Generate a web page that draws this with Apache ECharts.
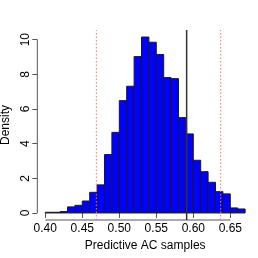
<!DOCTYPE html>
<html><head><meta charset="utf-8">
<script src="https://cdn.jsdelivr.net/npm/echarts@6/dist/echarts.min.js"></script>
<style>html,body{margin:0;padding:0;background:#fff}#c{width:258px;height:258px}</style>
</head><body><div id="c"></div>
<script>
// Histogram bins (left edges) and densities
const binLeft = [0.40,0.41,0.42,0.43,0.44,0.45,0.46,0.47,0.48,0.49,0.50,0.51,0.52,0.53,0.54,0.55,0.56,0.57,0.58,0.59,0.60,0.61,0.62,0.63,0.64,0.65,0.66];
const density = [0.04,0.04,0.08,0.35,0.44,0.69,1.19,1.62,3.37,4.65,6.48,7.31,9.02,10.15,9.85,9.14,7.81,7.75,5.50,4.56,3.04,2.38,1.77,1.23,1.10,0.29,0.23];
const binWidth = 0.01;
const xTicks = [0.40,0.45,0.50,0.55,0.60,0.65];
const yTicks = [0,2,4,6,8,10];
const intervalLower = 0.469;
const intervalUpper = 0.637;
const observed = 0.591;
const xRange = [0.3892, 0.6808];
const yRange = [-0.406, 10.556];

const font = 'Liberation Sans, Arial, sans-serif';
const chart = echarts.init(document.getElementById('c'), null, {renderer:'canvas'});
chart.setOption({
  animation:false,
  grid:{left:37.3, right:4.9, top:30, bottom:38, containLabel:false, outerBoundsMode:'none'},
  xAxis:{type:'value', min:xRange[0], max:xRange[1],
    name:'Predictive AC samples', nameLocation:'middle', nameGap:18,
    nameTextStyle:{color:'#000', fontFamily:font, fontSize:12},
    axisLine:{show:false}, splitLine:{show:false},
    axisTick:{show:true, customValues:xTicks, length:5, lineStyle:{color:'#555'}},
    axisLabel:{customValues:xTicks, margin:3, color:'#000', fontFamily:font, fontSize:12,
      formatter:v=>v.toFixed(2)}},
  yAxis:{type:'value', min:yRange[0], max:yRange[1],
    name:'Density', nameLocation:'middle', nameGap:19, nameRotate:90,
    nameTextStyle:{color:'#000', fontFamily:font, fontSize:12},
    axisLine:{show:false}, splitLine:{show:false},
    axisTick:{show:true, customValues:yTicks, length:5, lineStyle:{color:'#555'}},
    axisLabel:{customValues:yTicks, rotate:90, margin:6, color:'#000', fontFamily:font, fontSize:12}},
  series:[
    {type:'custom', data:binLeft.map((b,i)=>[b, b+binWidth, density[i]]), clip:false,
      renderItem:(params, api)=>{
        const p0 = api.coord([api.value(0), api.value(2)]);
        const p1 = api.coord([api.value(1), 0]);
        return {type:'rect', shape:{x:p0[0], y:p0[1], width:p1[0]-p0[0], height:p1[1]-p0[1]},
          style:{fill:'#0000FF', stroke:'#1a1a1a', lineWidth:1}};
      }},
    {type:'line', data:[[xTicks[0], yRange[0]],[xTicks[xTicks.length-1], yRange[0]]], symbol:'none', clip:false,
      lineStyle:{color:'#555', width:1}},
    {type:'line', data:[[xRange[0], yTicks[0]],[xRange[0], yTicks[yTicks.length-1]]], symbol:'none', clip:false,
      lineStyle:{color:'#555', width:1}},
    {type:'line', data:[[intervalLower, yRange[0]],[intervalLower, yRange[1]]], symbol:'none', clip:false,
      lineStyle:{color:'#ff7070', width:1, type:[1.5,2]}},
    {type:'line', data:[[intervalUpper, yRange[0]],[intervalUpper, yRange[1]]], symbol:'none', clip:false,
      lineStyle:{color:'#ff7070', width:1, type:[1.5,2]}},
    {type:'line', data:[[observed, yRange[0]],[observed, yRange[1]]], symbol:'none', clip:false,
      lineStyle:{color:'#333', width:1.5}}
  ]
});
</script></body></html>
